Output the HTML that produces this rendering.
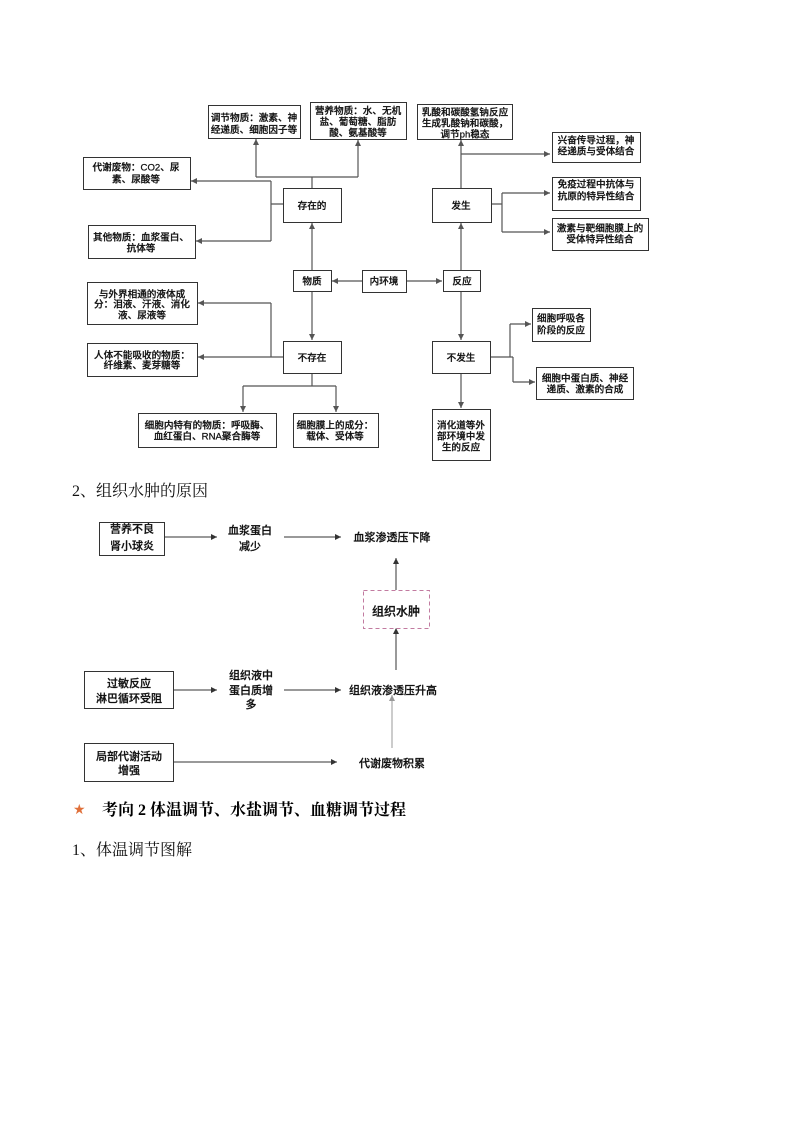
<!DOCTYPE html>
<html><head><meta charset="utf-8"><style>
html,body{margin:0;padding:0;background:#fff;}
svg{display:block;}
.t{font-family:"Liberation Sans","Noto Sans CJK SC",sans-serif;font-size:9.6px;fill:#111;stroke:#111;stroke-width:0.25;text-anchor:middle;font-weight:500;}
.t2{font-family:"Liberation Sans","Noto Sans CJK SC",sans-serif;font-size:11px;fill:#111;stroke:#111;stroke-width:0.25;text-anchor:middle;font-weight:500;}
.h{font-family:"Liberation Serif","Noto Serif CJK SC",serif;font-size:16px;fill:#111;}
.hb{font-family:"Liberation Serif","Noto Serif CJK SC",serif;font-size:16px;fill:#000;font-weight:700;}
.b{fill:#fff;stroke:#333;stroke-width:1;}
.l{fill:none;stroke:#555;stroke-width:1.2;}
.l2{fill:none;stroke:#333;stroke-width:1;}
</style></head><body>
<svg width="794" height="1123" viewBox="0 0 794 1123" xmlns="http://www.w3.org/2000/svg">
<defs>
<marker id="a" viewBox="0 0 10 10" refX="10" refY="5" markerWidth="7" markerHeight="6" orient="auto" markerUnits="userSpaceOnUse"><path d="M0,0 L10,5 L0,10 z" fill="#555"/></marker>
<marker id="b" viewBox="0 0 10 10" refX="10" refY="5" markerWidth="8" markerHeight="6" orient="auto" markerUnits="userSpaceOnUse"><path d="M0,0 L10,5 L0,10 z" fill="#333"/></marker>
<marker id="c" viewBox="0 0 10 10" refX="10" refY="5" markerWidth="8" markerHeight="6" orient="auto" markerUnits="userSpaceOnUse"><path d="M0,0 L10,5 L0,10 z" fill="#999"/></marker>
</defs>

<!-- ===== Top diagram connectors ===== -->
<path class="l" d="M312,188 V177 M256,177 H358"/>
<path class="l" d="M256,177 V139" marker-end="url(#a)"/>
<path class="l" d="M358,177 V140" marker-end="url(#a)"/>
<path class="l" d="M283,204 H271 M271,181 V241"/>
<path class="l" d="M271,181 H191" marker-end="url(#a)"/>
<path class="l" d="M271,241 H196" marker-end="url(#a)"/>
<path class="l" d="M312,270 V223" marker-end="url(#a)"/>
<path class="l" d="M362,281 H332" marker-end="url(#a)"/>
<path class="l" d="M406,281 H442" marker-end="url(#a)"/>
<path class="l" d="M312,291 V340" marker-end="url(#a)"/>
<path class="l" d="M283,357 H271 M271,303 V357"/>
<path class="l" d="M271,303 H198" marker-end="url(#a)"/>
<path class="l" d="M271,357 H198" marker-end="url(#a)"/>
<path class="l" d="M312,373 V386 M243,386 H336"/>
<path class="l" d="M243,386 V412" marker-end="url(#a)"/>
<path class="l" d="M336,386 V412" marker-end="url(#a)"/>

<path class="l" d="M461,270 V223" marker-end="url(#a)"/>
<path class="l" d="M461,188 V140" marker-end="url(#a)"/>
<path class="l" d="M461,154 H550" marker-end="url(#a)"/>
<path class="l" d="M491,204 H502 M502,193 V232"/>
<path class="l" d="M502,193 H550" marker-end="url(#a)"/>
<path class="l" d="M502,232 H550" marker-end="url(#a)"/>
<path class="l" d="M461,291 V340" marker-end="url(#a)"/>
<path class="l" d="M490,357 H513 M510,324 V357 M513,357 V382"/>
<path class="l" d="M510,324 H531" marker-end="url(#a)"/>
<path class="l" d="M513,382 H535" marker-end="url(#a)"/>
<path class="l" d="M461,373 V408" marker-end="url(#a)"/>

<!-- ===== Top diagram boxes ===== -->
<rect class="b" x="208.5" y="105.5" width="92" height="33"/>
<text class="t" x="254" y="121">调节物质：激素、神</text>
<text class="t" x="254" y="133">经递质、细胞因子等</text>

<rect class="b" x="310.5" y="102.5" width="96" height="37"/>
<text class="t" x="358" y="114">营养物质：水、无机</text>
<text class="t" x="358" y="125">盐、葡萄糖、脂肪</text>
<text class="t" x="358" y="136">酸、氨基酸等</text>

<rect class="b" x="83.5" y="157.5" width="107" height="32"/>
<text class="t" x="136" y="170.5">代谢废物：CO2、尿</text>
<text class="t" x="136" y="182.5">素、尿酸等</text>

<rect class="b" x="283.5" y="188.5" width="58" height="34"/>
<text class="t" x="312" y="209">存在的</text>

<rect class="b" x="88.5" y="225.5" width="107" height="33"/>
<text class="t" x="141" y="240.5">其他物质：血浆蛋白、</text>
<text class="t" x="141" y="251.5">抗体等</text>

<rect class="b" x="293.5" y="270.5" width="38" height="21"/>
<text class="t" x="312" y="284.5">物质</text>

<rect class="b" x="362.5" y="270.5" width="44" height="22"/>
<text class="t" x="384" y="284.5">内环境</text>

<rect class="b" x="87.5" y="282.5" width="110" height="42"/>
<text class="t" x="142" y="297.5">与外界相通的液体成</text>
<text class="t" x="142" y="307.5">分：泪液、汗液、消化</text>
<text class="t" x="142" y="318.5">液、尿液等</text>

<rect class="b" x="87.5" y="343.5" width="110" height="33"/>
<text class="t" x="142" y="358.5">人体不能吸收的物质：</text>
<text class="t" x="142" y="368.5">纤维素、麦芽糖等</text>

<rect class="b" x="283.5" y="341.5" width="58" height="32"/>
<text class="t" x="312" y="361">不存在</text>

<rect class="b" x="138.5" y="413.5" width="138" height="34"/>
<text class="t" x="207" y="428.5">细胞内特有的物质：呼吸酶、</text>
<text class="t" x="207" y="439.5">血红蛋白、RNA聚合酶等</text>

<rect class="b" x="293.5" y="413.5" width="85" height="34"/>
<text class="t" x="335" y="428.5">细胞膜上的成分：</text>
<text class="t" x="335" y="439.5">载体、受体等</text>

<rect class="b" x="417.5" y="104.5" width="95" height="35"/>
<text class="t" x="465" y="115.5">乳酸和碳酸氢钠反应</text>
<text class="t" x="465" y="126.5">生成乳酸钠和碳酸，</text>
<text class="t" x="465" y="137.5">调节ph稳态</text>

<rect class="b" x="432.5" y="188.5" width="59" height="34"/>
<text class="t" x="461" y="209">发生</text>

<rect class="b" x="552.5" y="132.5" width="88" height="30"/>
<text class="t" x="596" y="143.5">兴奋传导过程，神</text>
<text class="t" x="596" y="154.5">经递质与受体结合</text>

<rect class="b" x="552.5" y="177.5" width="88" height="33"/>
<text class="t" x="596" y="187.5">免疫过程中抗体与</text>
<text class="t" x="596" y="199.5">抗原的特异性结合</text>

<rect class="b" x="552.5" y="218.5" width="96" height="32"/>
<text class="t" x="600" y="231.5">激素与靶细胞膜上的</text>
<text class="t" x="600" y="242.5">受体特异性结合</text>

<rect class="b" x="443.5" y="270.5" width="37" height="21"/>
<text class="t" x="462" y="284.5">反应</text>

<rect class="b" x="432.5" y="341.5" width="58" height="32"/>
<text class="t" x="461" y="361">不发生</text>

<rect class="b" x="532.5" y="308.5" width="58" height="33"/>
<text class="t" x="561" y="321.5">细胞呼吸各</text>
<text class="t" x="561" y="333.5">阶段的反应</text>

<rect class="b" x="536.5" y="367.5" width="97" height="32"/>
<text class="t" x="585" y="381.5">细胞中蛋白质、神经</text>
<text class="t" x="585" y="392.5">递质、激素的合成</text>

<rect class="b" x="432.5" y="409.5" width="58" height="51"/>
<text class="t" x="461" y="428.5">消化道等外</text>
<text class="t" x="461" y="439.5">部环境中发</text>
<text class="t" x="461" y="450.5">生的反应</text>

<!-- ===== Heading ===== -->
<text class="h" x="72" y="496">2、组织水肿的原因</text>

<!-- ===== Edema diagram ===== -->
<path class="l2" d="M164,537 H217" marker-end="url(#b)"/>
<path class="l2" d="M284,537 H341" marker-end="url(#b)"/>
<path class="l2" d="M396,590 V558" marker-end="url(#b)"/>
<path class="l2" d="M396,670 V628" marker-end="url(#b)"/>
<path class="l2" d="M173,690 H217" marker-end="url(#b)"/>
<path class="l2" d="M284,690 H341" marker-end="url(#b)"/>
<path class="l2" d="M173,762 H337" marker-end="url(#b)"/>
<path d="M392,748 V695" fill="none" stroke="#999" stroke-width="1" marker-end="url(#c)"/>

<rect class="b" x="99.5" y="522.5" width="65" height="33"/>
<text class="t2" x="132" y="532.5">营养不良</text>
<text class="t2" x="132" y="549.5">肾小球炎</text>

<text class="t2" x="250" y="534">血浆蛋白</text>
<text class="t2" x="250" y="550">减少</text>

<text class="t2" x="392" y="541">血浆渗透压下降</text>

<rect x="363.5" y="590.5" width="66" height="38" fill="#fff" stroke="#c27ba0" stroke-width="1" stroke-dasharray="4,3"/>
<text class="t2" x="396" y="615.5" style="font-size:12px">组织水肿</text>

<rect class="b" x="84.5" y="671.5" width="89" height="37"/>
<text class="t2" x="129" y="687">过敏反应</text>
<text class="t2" x="129" y="702">淋巴循环受阻</text>

<text class="t2" x="251" y="679">组织液中</text>
<text class="t2" x="251" y="694">蛋白质增</text>
<text class="t2" x="251" y="708">多</text>

<text class="t2" x="393" y="694">组织液渗透压升高</text>

<rect class="b" x="84.5" y="743.5" width="89" height="38"/>
<text class="t2" x="129" y="760">局部代谢活动</text>
<text class="t2" x="129" y="774">增强</text>

<text class="t2" x="392" y="767">代谢废物积累</text>

<!-- ===== Headings ===== -->
<text x="73" y="814" style="font-family:'DejaVu Sans',sans-serif;font-size:14px;fill:#e0703a;">★</text>
<text class="hb" x="102" y="815">考向 2 体温调节、水盐调节、血糖调节过程</text>
<text class="h" x="72" y="855">1、体温调节图解</text>
</svg>
</body></html>
